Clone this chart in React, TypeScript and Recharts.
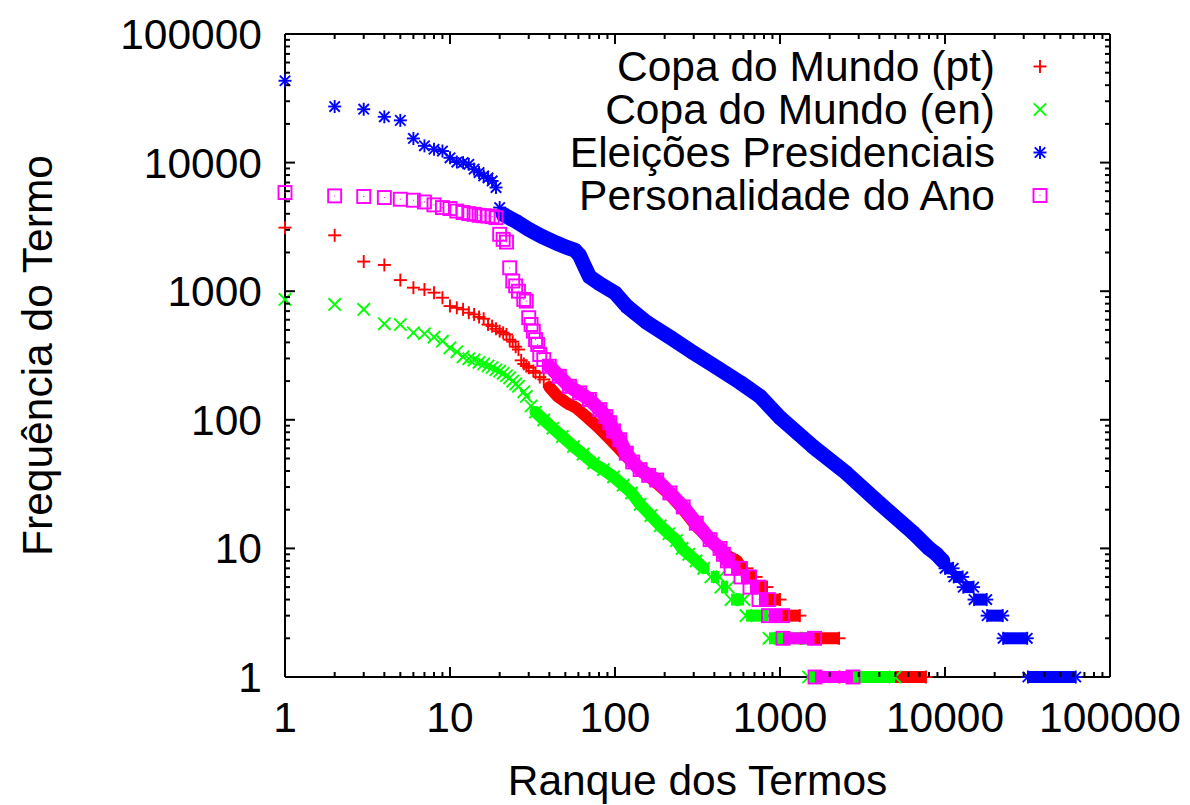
import React from 'react';
import { ScatterChart, Scatter, XAxis, YAxis, ReferenceLine, Legend, Label } from 'recharts';

// ---------- data ----------
const seriesNames = ['Copa do Mundo (pt)', 'Copa do Mundo (en)', 'Eleições Presidenciais', 'Personalidade do Ano'];
const seriesColors = ['#ff0000', '#00ff00', '#0000ff', '#ff00ff'];
const seriesMarkers = ['plus', 'cross', 'star', 'square'];

const majorTicks = [1, 10, 100, 1000, 10000, 100000];
const majorTickLabels = ['1', '10', '100', '1000', '10000', '100000'];
const minorMultipliers = [2, 3, 4, 5, 6, 7, 8, 9];

const xTitle = 'Ranque dos Termos';
const yTitle = 'Frequência do Termo';

// [rank, frequency]  -- sparse head (individual points)
const ptHead: [number, number][] = [[1,3120],[2,2720],[3,1700],[4,1600],[5,1220],[6,1065],[7,1030],[8,974],[9,890],[10,766],[11,743],[12,722],[13,680],[14,660],[15,630],[16,611],[17,550],[18,535],[19,510],[20,489],[21,475],[22,461],[23,420],[24,405],[25,370],[26,352],[27,290],[28,272],[29,262],[30,254],[32,240],[33,232],[35,215],[37,206]];
// dense body
const ptBody: [number, number][] = [[40,180],[45,152],[51,135],[58,124],[67,106],[78,89],[90,74],[103,62],[115,53],[129,46],[150,39],[180,32],[215,26],[260,20],[310,15],[380,11.5],[440,9.5],[500,8.5],[550,8]];
// [frequency, first rank, last rank]
const ptRuns: [number, number, number][] = [[7,570,631],[6,640,716],[5,720,834],[4,840,1000],[3,1005,1320],[2,1330,2280],[1,2290,7670]];

const enHead: [number, number][] = [[1,863],[2,789],[3,722],[4,558],[5,551],[6,475],[7,467],[8,440],[9,409],[10,363],[11,338],[12,309],[13,298],[14,292],[15,280],[16,272],[17,262],[18,255],[19,245],[20,239],[21,230],[22,220],[23,212],[24,200],[25,190],[26,182],[28,165],[29,152],[31,128]];
const enBody: [number, number][] = [[33,115],[37,100],[42,86],[48,74],[56,62],[64,54],[74,46],[85,41],[98,36],[112,31],[126,27],[142,22],[165,18],[188,15],[212,13],[236,11.5],[255,10],[280,9],[310,8],[345,7]];
const enRuns: [number, number, number][] = [[6,381,428],[5,439,485],[4,505,605],[3,622,850],[2,858,1480],[1,1490,4980]];

const elHead: [number, number][] = [[1,43300],[2,27300],[3,26000],[4,22700],[5,21300],[6,15400],[7,13500],[8,12700],[9,12300],[10,10900],[11,10100],[12,10000],[13,9700],[14,8900],[15,8370],[16,7880],[17,7600],[18,7200],[19,6400],[20,4470]];
const elBody: [number, number][] = [[21,3960],[22,3830],[25,3500],[30,3030],[36,2670],[44,2370],[51,2190],[57,2090],[61,1900],[65,1590],[70,1300],[81,1140],[100,970],[118,762],[156,571],[216,437],[297,334],[414,255],[574,195],[757,152],[1000,104],[1580,62],[2520,38.6],[4000,22.5],[6420,13.2],[8000,10],[8900,9],[9700,8]];
const elRuns: [number, number, number][] = [[7,10000,11200],[6,11300,12800],[5,12900,14900],[4,15000,17900],[3,18000,22400],[2,22500,31500],[1,31800,62000]];

const paHead: [number, number][] = [[1,5850],[2,5510],[3,5450],[4,5350],[5,5190],[6,5100],[7,4940],[8,4690],[9,4470],[10,4390],[11,4200],[12,4090],[13,4010],[14,3960],[15,3890],[16,3860],[17,3840],[18,3800],[19,3730],[20,2770],[21,2530],[22,2410],[23,1520],[24,1200],[25,1100],[26,1000],[28,863],[29,838],[30,622],[31,551],[32,489],[33,420],[34,385],[35,322],[37,294]];
const paBody: [number, number][] = [[40,261],[46,218],[53,182],[61,162],[70,144],[81,120],[88,106],[93,95],[98,82],[107,70],[117,55],[128,47],[142,41],[160,37],[179,34],[215,27],[259,21],[311,15.7],[377,11.7],[433,10],[454,9],[480,8]];
const paRuns: [number, number, number][] = [[7,505,575],[6,580,655],[5,658,745],[4,746,850],[3,852,1037],[2,1043,1620],[1,1630,2770]];

const allHeads = [ptHead, enHead, elHead, paHead];
const allBodies = [ptBody, enBody, elBody, paBody];
const allRuns = [ptRuns, enRuns, elRuns, paRuns];

// ---------- layout ----------
const W = 1190;
const H = 805;
const PLOT_LEFT = 285;
const PLOT_TOP = 34;
const PLOT_RIGHT = 1110;
const PLOT_BOTTOM = 677;
const PLOT_W = PLOT_RIGHT - PLOT_LEFT;
const PLOT_H = PLOT_BOTTOM - PLOT_TOP;
const FONT = '"Liberation Sans", Arial, Helvetica, sans-serif';
const FS = 42.5;
const MAJOR_LEN = 10;
const MINOR_LEN = 5;
const MK = 6.5; // marker half size
const MSW = 1.9; // marker stroke width
const bandWidths = [12, 12, 15, 14]; // thickness of dense bands
const RUN_W = 12;

const axisTicks: number[] = [];
majorTicks.forEach((m, i) => {
  axisTicks.push(m);
  if (i < majorTicks.length - 1) minorMultipliers.forEach((k) => axisTicks.push(m * k));
});

const isMajor = (v: number) => majorTicks.indexOf(v) >= 0;
const labelOf = (v: number) => majorTickLabels[majorTicks.indexOf(v)];

const toPts = (arr: [number, number][]) => arr.map(([x, y]) => ({ x, y }));

function Glyph({ cx, cy, kind, color }: { cx: number; cy: number; kind: string; color: string }) {
  if (cx == null || cy == null || isNaN(cx) || isNaN(cy)) return null;
  const s = MK;
  const plus = (
    <>
      <line x1={cx - s} x2={cx + s} y1={cy} y2={cy} stroke={color} strokeWidth={MSW} />
      <line x1={cx} x2={cx} y1={cy - s} y2={cy + s} stroke={color} strokeWidth={MSW} />
    </>
  );
  const d = s * 0.8;
  const cross = (
    <>
      <line x1={cx - d} x2={cx + d} y1={cy - d} y2={cy + d} stroke={color} strokeWidth={MSW} />
      <line x1={cx - d} x2={cx + d} y1={cy + d} y2={cy - d} stroke={color} strokeWidth={MSW} />
    </>
  );
  if (kind === 'plus') return <g>{plus}</g>;
  if (kind === 'cross') {
    const e = s * 0.95;
    return (
      <g>
        <line x1={cx - e} x2={cx + e} y1={cy - e} y2={cy + e} stroke={color} strokeWidth={MSW} />
        <line x1={cx - e} x2={cx + e} y1={cy + e} y2={cy - e} stroke={color} strokeWidth={MSW} />
      </g>
    );
  }
  if (kind === 'star') return <g>{plus}{cross}</g>;
  return (
    <g>
      <rect x={cx - s} y={cy - s} width={2 * s} height={2 * s} fill="none" stroke={color} strokeWidth={MSW} />
      <rect x={cx - 0.5} y={cy - 0.5} width={1} height={1} fill={color} />
    </g>
  );
}

function XTick(props: any) {
  const { x, y, payload } = props;
  const v = payload.value;
  const major = isMajor(v);
  const len = major ? MAJOR_LEN : MINOR_LEN;
  return (
    <g>
      <line x1={x} x2={x} y1={y} y2={y - len} stroke="#000" strokeWidth={2} />
      <line x1={x} x2={x} y1={y - PLOT_H} y2={y - PLOT_H + len} stroke="#000" strokeWidth={2} />
      {major && (
        <text x={x} y={y + 55} textAnchor="middle" fontFamily={FONT} fontSize={FS} fill="#000">
          {labelOf(v)}
        </text>
      )}
    </g>
  );
}

function YTick(props: any) {
  const { x, y, payload } = props;
  const v = payload.value;
  const major = isMajor(v);
  const len = major ? MAJOR_LEN : MINOR_LEN;
  return (
    <g>
      <line x1={x} x2={x + len} y1={y} y2={y} stroke="#000" strokeWidth={2} />
      <line x1={x + PLOT_W} x2={x + PLOT_W - len} y1={y} y2={y} stroke="#000" strokeWidth={2} />
      {major && (
        <text x={x - 23} y={y + 15} textAnchor="end" fontFamily={FONT} fontSize={FS} fill="#000">
          {labelOf(v)}
        </text>
      )}
    </g>
  );
}

function LegendBox() {
  return (
    <div style={{ fontFamily: FONT, fontSize: FS }}>
      {seriesNames.map((name, i) => (
        <div key={name} style={{ display: 'flex', justifyContent: 'flex-end', alignItems: 'center', height: 43, lineHeight: '43px' }}>
          <span style={{ whiteSpace: 'nowrap', color: '#000' }}>{name}</span>
          <svg width={65} height={43} style={{ display: 'block' }}>
            <Glyph cx={45} cy={21.5} kind={seriesMarkers[i]} color={seriesColors[i]} />
          </svg>
        </div>
      ))}
    </div>
  );
}

export default function App() {
  const scatters: React.ReactNode[] = [];
  for (let i = 0; i < 4; i++) {
    const color = seriesColors[i];
    const kind = seriesMarkers[i];
    const shape = (p: any) => <Glyph cx={p.cx} cy={p.cy} kind={kind} color={color} />;
    scatters.push(
      <Scatter
        key={`body-${i}`}
        name={seriesNames[i]}
        data={toPts(allBodies[i])}
        fill={color}
        line={{ stroke: color, strokeWidth: bandWidths[i], strokeLinejoin: 'round', strokeLinecap: 'round' }}
        lineType="joint"
        shape={shape}
        isAnimationActive={false}
      />
    );
    scatters.push(
      <Scatter key={`head-${i}`} data={toPts(allHeads[i])} fill={color} shape={shape} isAnimationActive={false} legendType="none" />
    );
    allRuns[i].forEach(([f, a, b], j) => {
      scatters.push(
        <Scatter
          key={`run-${i}-${j}`}
          data={[{ x: a, y: f }, { x: b, y: f }]}
          fill={color}
          line={{ stroke: color, strokeWidth: RUN_W, strokeLinecap: 'butt' }}
          lineType="joint"
          shape={shape}
          isAnimationActive={false}
          legendType="none"
        />
      );
    });
  }

  return (
    <div style={{ position: 'absolute', left: 0, top: 0, width: W, height: H, background: '#fff' }}>
      <ScatterChart width={W} height={H} margin={{ top: PLOT_TOP, right: W - PLOT_RIGHT, bottom: 0, left: 0 }}>
        <XAxis
          type="number"
          dataKey="x"
          scale="log"
          domain={[1, 100000]}
          ticks={axisTicks}
          interval={0}
          height={H - PLOT_BOTTOM}
          tickSize={0}
          tickMargin={0}
          tickLine={false}
          axisLine={{ stroke: '#000', strokeWidth: 2 }}
          tick={(p: any) => <XTick {...p} />}
        >
          <Label
            content={(p: any) => {
              const vb = p.viewBox || { x: PLOT_LEFT, y: PLOT_BOTTOM, width: PLOT_W, height: H - PLOT_BOTTOM };
              return (
                <text x={vb.x + vb.width / 2} y={vb.y + vb.height - 10} textAnchor="middle" fontFamily={FONT} fontSize={FS} fill="#000">
                  {xTitle}
                </text>
              );
            }}
          />
        </XAxis>
        <YAxis
          type="number"
          dataKey="y"
          scale="log"
          domain={[1, 100000]}
          ticks={axisTicks}
          interval={0}
          width={PLOT_LEFT}
          tickSize={0}
          tickMargin={0}
          tickLine={false}
          axisLine={{ stroke: '#000', strokeWidth: 2 }}
          tick={(p: any) => <YTick {...p} />}
        >
          <Label
            content={(p: any) => {
              const vb = p.viewBox || { x: 0, y: PLOT_TOP, width: PLOT_LEFT, height: PLOT_H };
              const cx = vb.x + 37;
              const cy = vb.y + vb.height / 2;
              return (
                <text x={cx} y={cy} transform={`rotate(-90, ${cx}, ${cy})`} dy={15} textAnchor="middle" fontFamily={FONT} fontSize={FS} fill="#000">
                  {yTitle}
                </text>
              );
            }}
          />
        </YAxis>
        <ReferenceLine y={100000} stroke="#000" strokeWidth={2} />
        <ReferenceLine x={100000} stroke="#000" strokeWidth={2} />
        {scatters}
        <Legend
          layout="horizontal"
          verticalAlign="middle"
          align="center"
          wrapperStyle={{ position: 'absolute', top: 45, left: 500, width: 560, height: 172 }}
          content={() => <LegendBox />}
        />
      </ScatterChart>
    </div>
  );
}
